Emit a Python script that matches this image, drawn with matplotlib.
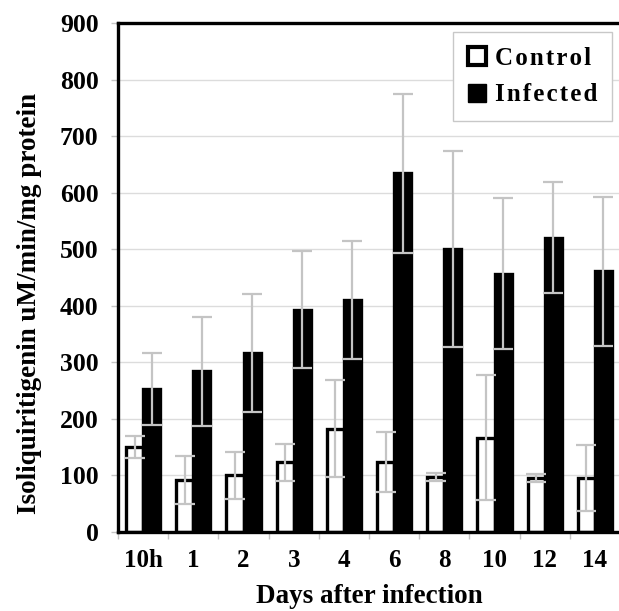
import numpy as np
import matplotlib
matplotlib.use('Agg')
import matplotlib.pyplot as plt
from matplotlib.patches import Patch

# datos
dias = ['10h', '1', '2', '3', '4', '6', '8', '10', '12', '14']
control = [150, 92, 100, 123, 183, 124, 97, 167, 96, 95]
control_err = [20, 42, 42, 33, 86, 53, 7, 110, 7, 58]
infectado = [253, 284, 316, 393, 410, 634, 500, 457, 520, 461]
infectado_err = [63, 96, 104, 103, 104, 140, 173, 133, 98, 132]

plt.rcParams['font.family'] = ['Liberation Serif', 'DejaVu Serif']
plt.rcParams['font.weight'] = 'bold'

x = np.arange(len(dias))
ancho = 0.34
gris = '#c4c4c4'

fig = plt.figure(figsize=(6.19, 6.11), dpi=100)
ax = fig.add_axes([118 / 619, 79 / 611, 502 / 619, 509 / 611])

ax.bar(x - ancho / 2, control, ancho, color='white', edgecolor='black', linewidth=2.4, zorder=2)
ax.bar(x + ancho / 2, infectado, ancho, color='black', edgecolor='black', linewidth=2.4, zorder=2)
ax.errorbar(x - ancho / 2, control, yerr=control_err, fmt='none', ecolor=gris,
            elinewidth=1.6, capsize=7, capthick=1.6, zorder=3)
ax.errorbar(x + ancho / 2, infectado, yerr=infectado_err, fmt='none', ecolor=gris,
            elinewidth=1.6, capsize=7, capthick=1.6, zorder=3)

ax.set_xlim(-0.5, len(dias) - 0.5)
ax.set_ylim(0, 900)
ax.set_yticks(np.arange(0, 901, 100))
ax.grid(axis='y', color='#dcdcdc', linewidth=1, zorder=0)
ax.set_axisbelow(True)

ax.set_xticks(x)
ax.set_xticklabels(dias, fontsize=18, fontweight='bold')
ax.set_xticks(np.arange(-0.5, len(dias), 1), minor=True)
ax.tick_params(axis='x', which='major', length=0, pad=12)
ax.tick_params(axis='x', which='minor', length=5, color=gris, width=1)
ax.tick_params(axis='y', length=5, color=gris, width=1, pad=9, labelsize=18.5)

for s in ['left', 'top', 'bottom']:
    ax.spines[s].set_linewidth(2.4)
ax.spines['right'].set_visible(False)

ax.set_xlabel('Days after infection', fontsize=19.5, fontweight='bold', labelpad=9)
ax.set_ylabel('Isoliquiritigenin uM/min/mg protein', fontsize=19.5, fontweight='bold')
ax.yaxis.set_label_coords(-0.152, 0.448)

handles = [Patch(facecolor='white', edgecolor='black', linewidth=3, label='Control'),
           Patch(facecolor='black', edgecolor='black', label='Infected')]
leg = ax.legend(handles=handles, loc='upper right', bbox_to_anchor=(0.985, 0.983),
                borderaxespad=0, fancybox=False, edgecolor='#c8c8c8', framealpha=1,
                prop={'size': 18, 'weight': 'bold'}, handlelength=0.75, handleheight=0.75,
                handletextpad=0.35, labelspacing=0.55, borderpad=0.6)
leg.get_frame().set_linewidth(1)
# letras algo separadas como en el original
for t in leg.get_texts():
    t.set_text('\u200a'.join(t.get_text()))

plt.savefig('out.png', dpi=100)
